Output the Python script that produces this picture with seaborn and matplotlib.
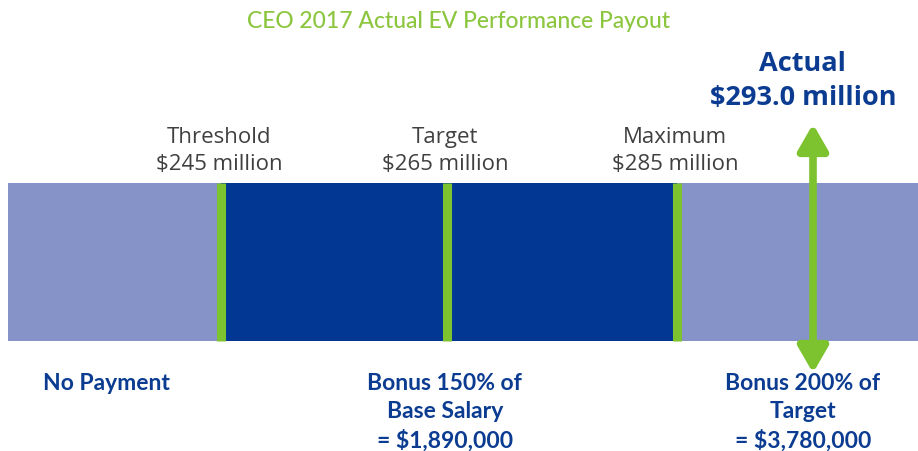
import numpy as np
import matplotlib.pyplot as plt
import seaborn as sns

# EV performance levels ($ million)
levels = ['Threshold', 'Target', 'Maximum']
level_values = [245, 265, 285]
actual_value = 293.0
band_start = [226.4, 245, 265, 285]
band_end = [245, 265, 285, 306.6]
band_dark = [False, True, True, False]
payout_text = ['No Payment', 'Bonus 150% of\nBase Salary\n= $1,890,000', 'Bonus 200% of\nTarget\n= $3,780,000']
payout_at = [235.0, 264.8, 292.4]

LIGHT = '#8693c8'
DARK = '#023894'
GREEN = '#7dc22f'
BLUE = '#0b3c91'
GRAY = '#404040'

sns.set_theme(style='white')
plt.rcParams['font.family'] = ['Open Sans', 'DejaVu Sans']

fig = plt.figure(figsize=(9.18, 4.51), dpi=100)
ax = fig.add_axes([0, 0, 1, 1])

# schematic scale: the graphic is not drawn strictly to scale
vals = [225.7, 226.4, 245, 265, 285, 293.0, 306.6]
pix = [0, 8, 221, 447, 677, 813, 918]
ax.set_xscale('function', functions=(lambda v: np.interp(v, vals, pix),
                                     lambda p: np.interp(p, pix, vals)))
ax.set_xlim(225.7, 306.6)
ax.set_ylim(451, 0)
ax.axis('off')

for s, e, d in zip(band_start, band_end, band_dark):
    ax.barh(262, e - s, left=s, height=158, color=DARK if d else LIGHT, linewidth=0)

ax.vlines(level_values, 183, 341, color=GREEN, linewidth=6.5)

ax.annotate('', xy=(actual_value, 124), xytext=(actual_value, 373),
            arrowprops=dict(arrowstyle='<|-|>,head_length=1.3,head_width=0.75',
                            color=GREEN, lw=5.5, shrinkA=0, shrinkB=0))

for name, v in zip(levels, level_values):
    ax.text(v - 0.15, 151, f'{name}\n${v} million', ha='center', va='center', fontsize=16,
            color=GRAY, linespacing=1.38)

ax.text(actual_value - 0.6, 81, f'Actual\n${actual_value:.1f} million', ha='center', va='center',
        fontsize=19.5, fontweight='bold', color=BLUE, linespacing=1.38)

ax.text(266.0, 22, 'CEO 2017 Actual EV Performance Payout', ha='center', va='center',
        fontsize=16.5, color='#8cc63f', fontweight='medium', family=['Lato', 'DejaVu Sans'])

for t, x in zip(payout_text, payout_at):
    ax.text(x, 373, t, ha='center', va='top', fontsize=16.5, color=BLUE, fontweight='bold',
            linespacing=1.4, family=['Lato', 'DejaVu Sans'])

fig.savefig('out.png', dpi=100)
